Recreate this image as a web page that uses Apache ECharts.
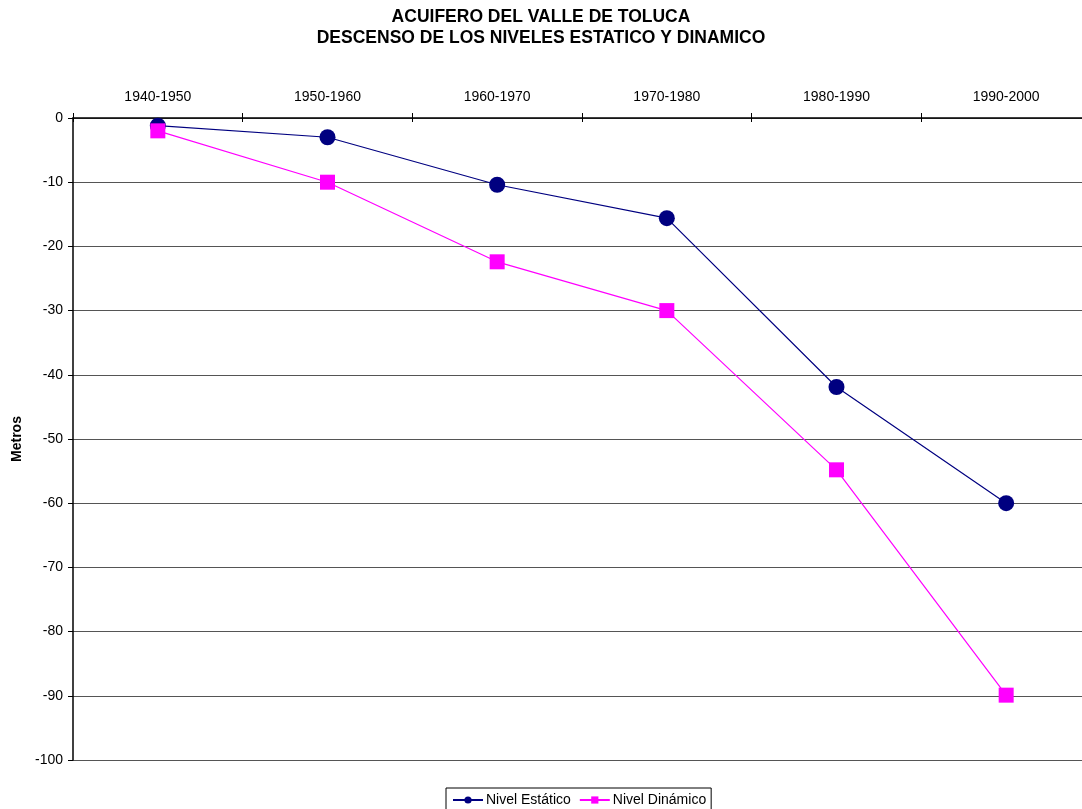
<!DOCTYPE html>
<html>
<head>
<meta charset="utf-8">
<script src="https://cdn.jsdelivr.net/npm/echarts@6/dist/echarts.min.js"></script>
<style>
  html, body { margin: 0; padding: 0; background: #fff; overflow: hidden; }
  #chart { width: 1082px; height: 809px; }
</style>
</head>
<body>
<div id="chart"></div>
<script>
// Decades along the top axis
const decades = ['1940-1950', '1950-1960', '1960-1970', '1970-1980', '1980-1990', '1990-2000'];
// Drawdown of the water table, metres
const nivelEstatico = [-1.2, -3, -10.4, -15.6, -41.9, -60];
const nivelDinamico = [-2, -10, -22.4, -30, -54.8, -89.9];

const FONT = 'Liberation Sans, Arial, sans-serif';
const chart = echarts.init(document.getElementById('chart'), null, { renderer: 'canvas' });

chart.setOption({
  animation: false,
  backgroundColor: '#ffffff',
  title: {
    text: 'ACUIFERO DEL VALLE DE TOLUCA\nDESCENSO DE LOS NIVELES ESTATICO Y DINAMICO',
    left: 'center',
    top: 6,
    padding: 0,
    textStyle: { fontFamily: FONT, fontSize: 17.5, fontWeight: 'bold', color: '#000', lineHeight: 21.5 }
  },
  legend: {
    top: 788,
    left: 446,
    itemWidth: 30,
    itemHeight: 9,
    itemGap: 8,
    padding: [5, 5, 10, 6],
    borderColor: '#000',
    borderWidth: 1,
    borderRadius: 0,
    textStyle: { fontFamily: FONT, fontSize: 14, color: '#000', padding: [0, 0, 0, -2] },
    data: ['Nivel Estático', 'Nivel Dinámico']
  },
  // plot runs a little past the right edge of the page
  grid: { left: 73, width: 1018, top: 118, height: 642, containLabel: false, outerBoundsMode: 'none' },
  xAxis: [{
    type: 'category',
    position: 'top',
    data: decades,
    boundaryGap: true,
    axisLine: { lineStyle: { color: '#000', width: 1.5 } },
    axisTick: { show: true, length: 5, lineStyle: { color: '#000' } },
    axisLabel: { fontFamily: FONT, fontSize: 14, color: '#000', margin: 14 },
    splitLine: { show: false }
  }, {
    // second copy only draws the downward half of the crossing ticks
    type: 'category',
    position: 'top',
    data: decades,
    boundaryGap: true,
    axisLine: { show: false },
    axisTick: { show: true, inside: true, length: 4, lineStyle: { color: '#000' } },
    axisLabel: { show: false },
    splitLine: { show: false }
  }],
  yAxis: {
    type: 'value',
    min: -100,
    max: 0,
    interval: 10,
    name: 'Metros',
    nameLocation: 'middle',
    nameGap: 48,
    nameTextStyle: { fontFamily: FONT, fontSize: 14, fontWeight: 'bold', color: '#000' },
    axisLine: { show: true, lineStyle: { color: '#000', width: 1.5 } },
    axisTick: { show: true, length: 5, lineStyle: { color: '#000' } },
    axisLabel: { fontFamily: FONT, fontSize: 14, color: '#000', margin: 10 },
    splitLine: { show: true, lineStyle: { color: '#555', width: 1 } }
  },
  series: [{
    name: 'Nivel Estático',
    type: 'line',
    data: nivelEstatico,
    symbol: 'circle',
    symbolSize: 16,
    color: '#000080',
    lineStyle: { color: '#000080', width: 1.2 },
    itemStyle: { color: '#000080' }
  }, {
    name: 'Nivel Dinámico',
    type: 'line',
    data: nivelDinamico,
    symbol: 'rect',
    symbolSize: 15,
    color: '#ff00ff',
    lineStyle: { color: '#ff00ff', width: 1.2 },
    itemStyle: { color: '#ff00ff' }
  }]
});
</script>
</body>
</html>
